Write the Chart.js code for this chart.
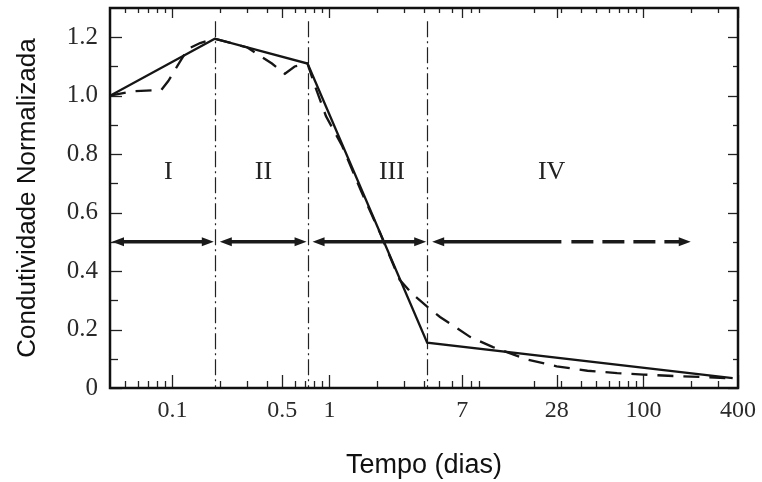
<!DOCTYPE html>
<html><head><meta charset="utf-8">
<script src="https://cdn.jsdelivr.net/npm/chart.js@4"></script>
<style>html,body{margin:0;padding:0;background:#fff}#wrap{width:762px;height:482px}</style>
</head><body><div id="wrap"><canvas id="c" width="762" height="482"></canvas></div>
<script>
// ---- data ----
const solidX = [0.04, 0.186, 0.725, 4.19, 370];
const solidY = [1.0, 1.195, 1.11, 0.155, 0.034];

const dashedX = [0.04, 0.055, 0.085, 0.094, 0.107, 0.125, 0.15, 0.186, 0.3, 0.43, 0.52, 0.6, 0.725,
                 0.8, 0.95, 1.2, 1.6, 2.1, 2.8, 3.4, 4.19,
                 5.06, 7.85, 11, 18, 28, 44, 68, 100, 155, 240, 370];
const dashedY = [1.0, 1.015, 1.02, 1.05, 1.10, 1.16, 1.18, 1.195, 1.165, 1.11, 1.075, 1.10, 1.11,
                 1.04, 0.93, 0.83, 0.67, 0.53, 0.37, 0.32, 0.278,
                 0.243, 0.175, 0.14, 0.098, 0.074, 0.059, 0.051, 0.046, 0.041, 0.038, 0.032];

const regionBounds = [0.04, 0.186, 0.725, 4.19];   // region starts (last region continues to arrowEnd)
const regionLines = [0.186, 0.725, 4.19];
const regionLineTop = 1.255;
const regionLabels = ['I', 'II', 'III', 'IV'];
const regionLabelX = [0.094, 0.38, 2.5, 26];
const regionLabelY = 0.74;
const arrowY = 0.5;
const arrowEnd = 200;       // end of region IV arrow
const arrowSolidEnd = 30;   // region IV arrow: solid part ends here, dashed afterwards

const xMajorTicks = [0.1, 0.5, 1, 7, 28, 100, 400];
const xMinorTicks = [0.05, 0.06, 0.07, 0.08, 0.09, 0.2, 0.3, 0.4, 0.6, 0.7, 0.8, 0.9,
                     2, 3, 4, 5, 6, 8, 9, 20, 30, 40, 50, 60, 70, 80, 90, 200, 300];
const yMajorTicks = [0, 0.2, 0.4, 0.6, 0.8, 1.0, 1.2];
const yMinorTicks = [0.1, 0.3, 0.5, 0.7, 0.9, 1.1];

const toPts = (xs, ys) => xs.map((x, i) => ({x: x, y: ys[i]}));

// ---- annotation plugin ----
const annot = {
  id: 'annot',
  beforeDatasetsDraw(chart) {
    const {ctx, chartArea: a, scales: {x, y}} = chart;
    ctx.save();
    ctx.strokeStyle = '#222';
    ctx.lineWidth = 1.2;
    ctx.setLineDash([16, 4, 2, 4]);
    regionLines.forEach(v => {
      const px = Math.round(x.getPixelForValue(v)) + 0.5;
      ctx.beginPath();
      ctx.moveTo(px, y.getPixelForValue(regionLineTop));
      ctx.lineTo(px, y.getPixelForValue(0));
      ctx.stroke();
    });
    ctx.setLineDash([]);
    ctx.fillStyle = '#222';
    ctx.font = '26px "Liberation Serif"';
    ctx.textAlign = 'center';
    ctx.textBaseline = 'middle';
    regionLabels.forEach((t, i) => {
      ctx.fillText(t, x.getPixelForValue(regionLabelX[i]), y.getPixelForValue(regionLabelY));
    });
    ctx.restore();
  },
  afterDatasetsDraw(chart) {
    const {ctx, chartArea: a, scales: {x, y}} = chart;
    ctx.save();
    const py = y.getPixelForValue(arrowY);
    const head = (tip, dir) => {
      ctx.beginPath();
      ctx.moveTo(tip, py);
      ctx.lineTo(tip - dir * 12, py - 4.5);
      ctx.lineTo(tip - dir * 12, py + 4.5);
      ctx.closePath();
      ctx.fill();
    };
    ctx.strokeStyle = '#1a1a1a';
    ctx.fillStyle = '#1a1a1a';
    ctx.lineWidth = 3.5;
    const ends = regionBounds.slice(1).concat([arrowEnd]);
    regionBounds.forEach((b, i) => {
      const l = x.getPixelForValue(b) + (i === 0 ? 2 : 5);
      const r = x.getPixelForValue(ends[i]) - (i === regionBounds.length - 1 ? 0 : 1);
      if (i < regionBounds.length - 1) {
        ctx.beginPath(); ctx.moveTo(l + 8, py); ctx.lineTo(r - 8, py); ctx.stroke();
      } else {
        const m = x.getPixelForValue(arrowSolidEnd);
        ctx.beginPath(); ctx.moveTo(l + 8, py); ctx.lineTo(m, py); ctx.stroke();
        ctx.setLineDash([22, 9]);
        ctx.beginPath(); ctx.moveTo(m + 10, py); ctx.lineTo(r - 8, py); ctx.stroke();
        ctx.setLineDash([]);
      }
      head(l, -1);
      head(r, 1);
    });
    ctx.restore();
  },
  afterDraw(chart) {
    const {ctx, chartArea: a, scales: {x, y}} = chart;
    ctx.save();
    ctx.strokeStyle = '#222';
    ctx.lineWidth = 1.3;
    const tick = (x1, y1, x2, y2) => { ctx.beginPath(); ctx.moveTo(x1, y1); ctx.lineTo(x2, y2); ctx.stroke(); };
    const xt = (list, lb, lt) => list.forEach(v => {
      const px = Math.round(x.getPixelForValue(v)) + 0.5;
      tick(px, a.bottom, px, a.bottom - lb);
      tick(px, a.top, px, a.top + lt);
    });
    xt(xMajorTicks, 13, 10);
    xt(xMinorTicks, 7, 5);
    const yt = (list, ll, lr) => list.forEach(v => {
      const py = Math.round(y.getPixelForValue(v)) + 0.5;
      tick(a.left, py, a.left + ll, py);
      tick(a.right, py, a.right - lr, py);
    });
    yt(yMajorTicks, 12, 10);
    yt(yMinorTicks, 8, 5);
    ctx.strokeStyle = '#111';
    ctx.lineWidth = 2.5;
    ctx.strokeRect(a.left, a.top, a.right - a.left, a.bottom - a.top);
    ctx.restore();
  }
};

new Chart(document.getElementById('c'), {
  type: 'line',
  data: {
    datasets: [
      {label: 'solid', data: toPts(solidX, solidY), borderColor: '#151515', borderWidth: 2.3,
       pointRadius: 0, tension: 0, fill: false},
      {label: 'dashed', data: toPts(dashedX, dashedY), borderColor: '#151515', borderWidth: 2.3,
       borderDash: [16, 10], pointRadius: 0, tension: 0, fill: false}
    ]
  },
  options: {
    responsive: false,
    animation: false,
    layout: {padding: {top: 8, right: 24, left: 0, bottom: 0}},
    plugins: {legend: {display: false}, tooltip: {enabled: false}},
    scales: {
      x: {
        type: 'logarithmic', min: 0.04, max: 400,
        afterBuildTicks: s => { s.ticks = xMajorTicks.map(v => ({value: v})); },
        afterFit: s => { s.height = 94; s.paddingLeft = 0; s.paddingRight = 0; },
        grid: {display: false, drawTicks: false},
        border: {display: false},
        ticks: {font: {family: 'Liberation Serif', size: 24}, color: '#2a2a2a', padding: 8,
                maxRotation: 0, autoSkip: false, callback: v => String(v)},
        title: {display: true, text: 'Tempo (dias)', color: '#111',
                font: {family: 'Liberation Sans', size: 27}, padding: {top: 0, bottom: 0}}
      },
      y: {
        type: 'linear', min: 0, max: 1.3,
        afterBuildTicks: s => { s.ticks = yMajorTicks.map(v => ({value: v})); },
        afterFit: s => { s.width = 110; s.paddingTop = 0; s.paddingBottom = 0; },
        grid: {display: false, drawTicks: false},
        border: {display: false},
        ticks: {font: {family: 'Liberation Serif', size: 25}, color: '#2a2a2a', padding: 12,
                autoSkip: false, callback: v => v === 0 ? '0' : v.toFixed(1)},
        title: {display: true, text: 'Condutividade Normalizada', color: '#111',
                font: {family: 'Liberation Sans', size: 26}, padding: {top: 12, bottom: 12}}
      }
    }
  },
  plugins: [annot]
});
</script>
</body></html>
